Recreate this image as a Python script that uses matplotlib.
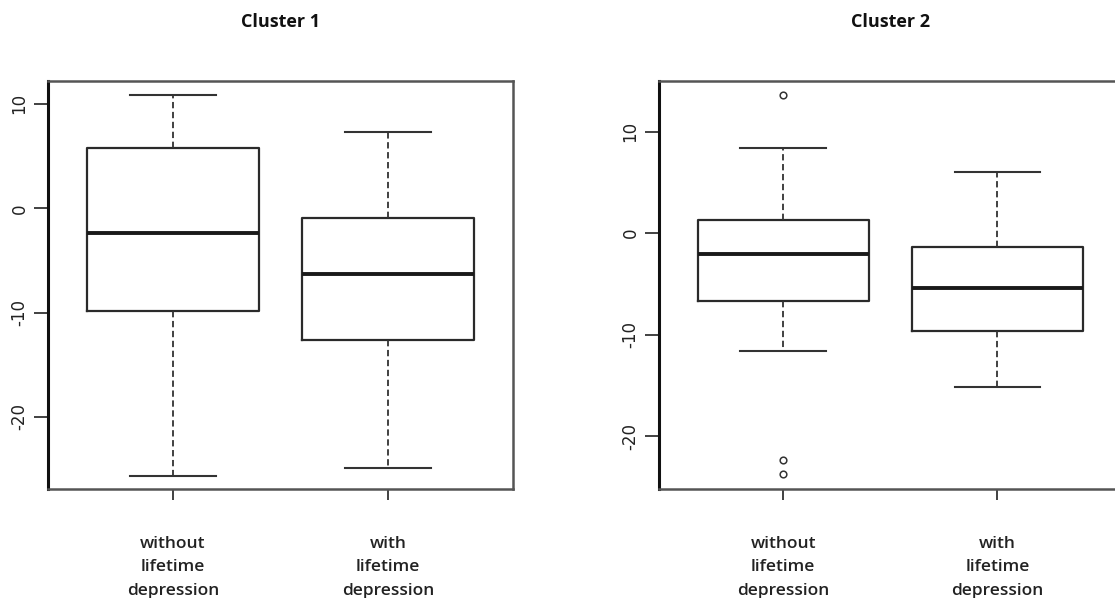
import matplotlib.pyplot as plt

# group labels
groups = ["without\nlifetime\ndepression", "with\nlifetime\ndepression"]

# values
c1_whislo = [-25.7, -24.9]
c1_q1 = [-9.8, -12.6]
c1_med = [-2.4, -6.3]
c1_q3 = [5.8, -0.9]
c1_whishi = [10.9, 7.3]
c1_fliers = [[], []]

c2_whislo = [-11.6, -15.2]
c2_q1 = [-6.7, -9.6]
c2_med = [-2.0, -5.4]
c2_q3 = [1.3, -1.35]
c2_whishi = [8.4, 6.0]
c2_fliers = [[13.6, -22.3, -23.7], []]


def make_stats(lo, q1, med, q3, hi, fl):
    stats = []
    for i in range(len(lo)):
        stats.append(dict(whislo=lo[i], q1=q1[i], med=med[i], q3=q3[i],
                          whishi=hi[i], fliers=fl[i]))
    return stats


fig = plt.figure(figsize=(11.15, 5.98), dpi=100)
ax1 = fig.add_axes([0.043, 0.1823, 0.417, 0.6823])
ax2 = fig.add_axes([0.591, 0.1823, 0.415, 0.6823])

panels = [
    (ax1, "Cluster 1", make_stats(c1_whislo, c1_q1, c1_med, c1_q3, c1_whishi, c1_fliers), (-26.9, 12.2)),
    (ax2, "Cluster 2", make_stats(c2_whislo, c2_q1, c2_med, c2_q3, c2_whishi, c2_fliers), (-25.2, 15.0)),
]

for ax, title, stats, ylim in panels:
    ax.bxp(stats, positions=[1, 2], widths=0.8, showfliers=True,
           boxprops=dict(color="#2a2a2a", linewidth=1.6),
           medianprops=dict(color="#1a1a1a", linewidth=2.8),
           whiskerprops=dict(color="#333333", linewidth=1.3, linestyle=(0, (3.5, 2))),
           capprops=dict(color="#333333", linewidth=1.5),
           capwidths=0.4,
           flierprops=dict(marker="o", markersize=4.8, markerfacecolor="none",
                           markeredgecolor="#333333", markeredgewidth=1.1))
    ax.set_xlim(0.42, 2.58)
    ax.set_ylim(*ylim)
    ax.set_yticks([10, 0, -10, -20])
    ax.set_yticklabels(["10", "0", "-10", "-20"], rotation=90, va="center",
                       fontsize=12, family="DejaVu Sans", color="#222222")
    ax.set_xticks([1, 2])
    ax.set_xticklabels(groups, fontsize=12.5, family="Open Sans", fontweight="semibold",
                       linespacing=1.6, color="#222222")
    ax.tick_params(axis="x", length=8, width=1.3, pad=26, color="#333333")
    ax.tick_params(axis="y", length=10, width=1.3, pad=4, color="#333333")
    for s in ax.spines.values():
        s.set_linewidth(1.8)
        s.set_color("#555555")
    ax.spines["left"].set_color("#111111")
    ax.spines["left"].set_linewidth(2.2)
    ax.text(0.5, 1.1446, title, transform=ax.transAxes, ha="center", va="center",
            fontsize=13, fontweight="bold", family="Open Sans", color="#111111")

plt.savefig("out.png", dpi=100)
